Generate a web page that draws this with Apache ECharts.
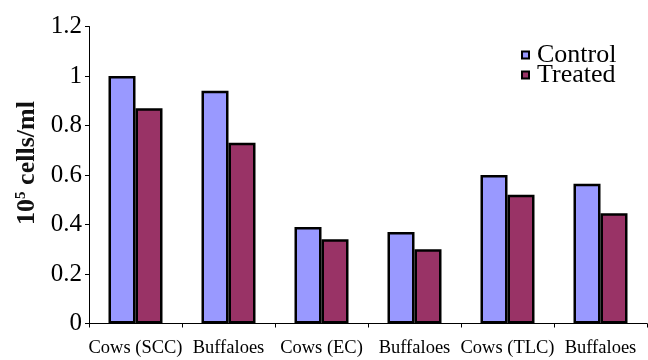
<!DOCTYPE html>
<html>
<head>
<meta charset="utf-8">
<script src="https://cdn.jsdelivr.net/npm/echarts@6/dist/echarts.min.js"></script>
<style>
  html, body { margin: 0; padding: 0; background: #fff; }
  #chart { width: 648px; height: 360px; }
</style>
</head>
<body>
<div id="chart"></div>
<script>
// Cell counts (10^5 cells/ml) for control vs treated animals
var categories = ['Cows (SCC)', 'Buffaloes', 'Cows (EC)', 'Buffaloes', 'Cows (TLC)', 'Buffaloes'];
var controlValues = [1.00, 0.94, 0.39, 0.37, 0.60, 0.565];
var treatedValues = [0.87, 0.73, 0.34, 0.30, 0.52, 0.445];
var yTicks = [0, 0.2, 0.4, 0.6, 0.8, 1, 1.2];
var seriesNames = ['Control', 'Treated'];

var serif = "'Liberation Serif', 'Times New Roman', serif";

var chart = echarts.init(document.getElementById('chart'), null, { renderer: 'canvas' });

chart.setOption({
  backgroundColor: '#ffffff',
  animation: false,
  grid: { left: 89, right: 1, top: 26.5, bottom: 36.5, containLabel: false },
  legend: {
    orient: 'vertical',
    left: 516,
    top: 37,
    itemWidth: 7,
    itemHeight: 7,
    itemGap: -6,
    icon: 'rect',
    textStyle: { fontFamily: serif, fontSize: 26, color: '#000', padding: [0, 0, 0, 3] },
    data: seriesNames
  },
  xAxis: {
    type: 'category',
    data: categories,
    axisLine: { lineStyle: { color: '#000', width: 1 } },
    axisTick: { show: true, alignWithLabel: false, length: 4, lineStyle: { color: '#000' } },
    axisLabel: { fontFamily: serif, fontSize: 18.5, color: '#000', margin: 15, interval: 0 },
    splitLine: { show: false }
  },
  yAxis: {
    type: 'value',
    min: 0,
    max: 1.2,
    interval: 0.2,
    axisLine: { show: true, lineStyle: { color: '#000', width: 1 } },
    axisTick: { show: true, length: 4, lineStyle: { color: '#000' } },
    axisLabel: {
      fontFamily: serif, fontSize: 25, color: '#000', margin: 7,
      formatter: function (v) {
        var t = yTicks.reduce(function (a, b) { return Math.abs(b - v) < Math.abs(a - v) ? b : a; });
        return String(t);
      }
    },
    splitLine: { show: false }
  },
  graphic: [{
    type: 'text',
    x: 27,
    y: 163,
    rotation: Math.PI / 2,
    style: {
      text: '{a|10}{b|5}{a| cells/ml}',
      align: 'center',
      verticalAlign: 'middle',
      rich: {
        a: { fontFamily: serif, fontSize: 26, fontWeight: 'bold', fill: '#111' },
        b: { fontFamily: serif, fontSize: 15, fontWeight: 'bold', fill: '#111', verticalAlign: 'top' }
      }
    }
  }],
  series: [
    {
      name: seriesNames[0],
      type: 'bar',
      data: controlValues,
      barWidth: 27,
      barGap: '0%',
      itemStyle: { color: '#9999FF', borderColor: '#000', borderWidth: 2.5 }
    },
    {
      name: seriesNames[1],
      type: 'bar',
      data: treatedValues,
      barWidth: 27,
      itemStyle: { color: '#993366', borderColor: '#000', borderWidth: 2.5 }
    }
  ]
});
</script>
</body>
</html>
